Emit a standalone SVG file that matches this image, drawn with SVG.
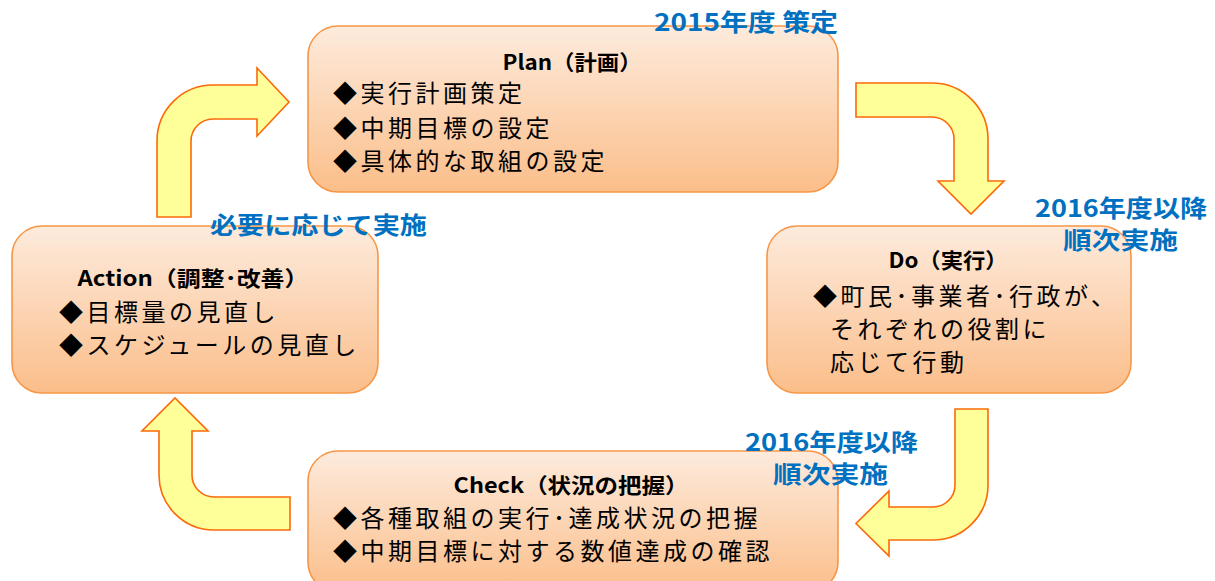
<svg xmlns="http://www.w3.org/2000/svg" width="1215" height="581" viewBox="0 0 1215 581">
<defs>
<linearGradient id="boxg" x1="0" y1="0" x2="0" y2="1">
<stop offset="0" stop-color="#FDEBDD"/>
<stop offset="1" stop-color="#FBBE8A"/>
</linearGradient>
<style>
.box{fill:url(#boxg);stroke:#F79646;stroke-width:1.6}
.arrow{fill:#FFFF99;stroke:#FA6A0A;stroke-width:1.6;stroke-linejoin:miter}
.title{font-family:"Noto Sans CJK JP","Noto Sans",sans-serif;font-weight:bold;font-size:21px;fill:#000;text-anchor:middle}
.body{font-family:"Noto Sans CJK JP",sans-serif;font-size:24px;fill:#000;letter-spacing:3.5px}
.blue{font-family:"Noto Sans CJK JP",sans-serif;font-weight:bold;font-size:24px;fill:#0070C0}
</style>
</defs>
<rect width="1215" height="581" fill="#FFFFFF"/>
<g id="connectors">
<path class="arrow" d="M157,217 L157,141 A56,56 0 0 1 213,85 L257,85 L257,68 L289,102 L257,136 L257,119 L213,119 A22,22 0 0 0 191,141 L191,217 Z"/>
<path class="arrow" d="M856,83 L932,83 A56,56 0 0 1 988,139 L988,181 L1004,181 L971,214 L938,181 L954,181 L954,139 A22,22 0 0 0 932,117 L856,117 Z"/>
<path class="arrow" d="M955,409 L988,409 L988,485 A55,55 0 0 1 933,540 L889,540 L889,556 L856,523.5 L889,491 L889,507 L933,507 A22,22 0 0 0 955,485 Z"/>
<path class="arrow" d="M290,497 L214,497 A22,22 0 0 1 192,475 L192,431 L208,431 L175,398 L142,431 L159,431 L159,475 A55,55 0 0 0 214,530 L290,530 Z"/>
</g>
<g id="plan">
<rect class="box" x="308" y="26" width="530" height="166" rx="30" ry="30"/>
<text class="title" x="572" y="70" textLength="139" lengthAdjust="spacingAndGlyphs">Plan（計画）</text>
<text class="body" x="333" y="102">◆実行計画策定</text>
<text class="body" x="333" y="137">◆中期目標の設定</text>
<text class="body" x="333" y="170">◆具体的な取組の設定</text>
</g>
<g id="do">
<rect class="box" x="767" y="226" width="364" height="167" rx="30" ry="30"/>
<text class="title" x="948" y="268" textLength="119" lengthAdjust="spacingAndGlyphs">Do（実行）</text>
<text class="body" x="813" y="305">◆町民･事業者･行政が、</text>
<text class="body" x="830" y="338">それぞれの役割に</text>
<text class="body" x="830" y="371">応じて行動</text>
</g>
<g id="action">
<rect class="box" x="12" y="226" width="366" height="167" rx="30" ry="30"/>
<text class="title" x="193" y="286" textLength="231" lengthAdjust="spacingAndGlyphs">Action（調整･改善）</text>
<text class="body" x="59" y="321">◆目標量の見直し</text>
<text class="body" x="59" y="354">◆スケジュールの見直し</text>
</g>
<g id="check">
<rect class="box" x="308" y="451" width="530" height="141" rx="30" ry="30"/>
<text class="title" x="571" y="493" textLength="235" lengthAdjust="spacingAndGlyphs">Check（状況の把握）</text>
<text class="body" x="333" y="527">◆各種取組の実行･達成状況の把握</text>
<text class="body" x="333" y="560">◆中期目標に対する数値達成の確認</text>
</g>
<g id="labels">
<text class="blue" x="654" y="31" textLength="184" lengthAdjust="spacingAndGlyphs">2015年度 策定</text>
<text class="blue" x="1035" y="217" textLength="172" lengthAdjust="spacingAndGlyphs">2016年度以降</text>
<text class="blue" x="1063" y="249" textLength="115" lengthAdjust="spacingAndGlyphs">順次実施</text>
<text class="blue" x="210" y="234" textLength="217" lengthAdjust="spacingAndGlyphs">必要に応じて実施</text>
<text class="blue" x="745" y="451" textLength="173" lengthAdjust="spacingAndGlyphs">2016年度以降</text>
<text class="blue" x="773" y="483" textLength="115" lengthAdjust="spacingAndGlyphs">順次実施</text>
</g>
</svg>
